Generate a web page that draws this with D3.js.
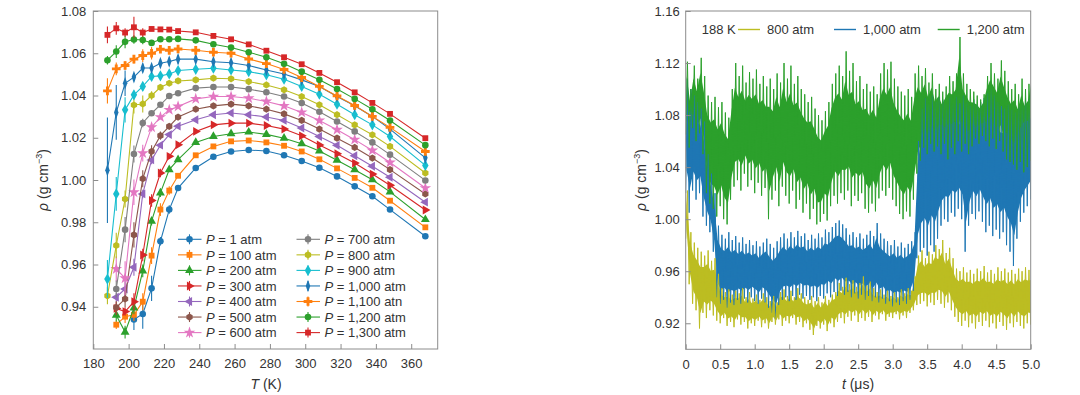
<!DOCTYPE html>
<html>
<head>
<meta charset="utf-8">
<script src="https://cdn.jsdelivr.net/npm/d3@7"></script>
<style>
  body { margin: 0; background: #fff; }
  svg { display: block; font-family: "Liberation Sans", Arial, sans-serif; }
</style>
</head>
<body>
<svg id="chart" width="1080" height="395"></svg>
<script>
// ---- left panel: density vs temperature at several pressures ----
const temps = [188, 193, 198, 203, 208, 213, 218, 223, 228, 238, 248, 258, 268, 278, 288, 298, 308, 318, 328, 338, 348, 368];
const pressureLabels = ["1", "100", "200", "300", "400", "500", "600", "700", "800", "900", "1,000", "1,100", "1,200", "1,300"];
const tempTicks = [180, 200, 220, 240, 260, 280, 300, 320, 340, 360];
const rhoTicksLeft = [0.94, 0.96, 0.98, 1.00, 1.02, 1.04, 1.06, 1.08];

const rhoP1    = [null, null, null, 0.934, 0.9366, 0.9487, 0.971, 0.986, 0.9962, 1.0057, 1.011, 1.0135, 1.0142, 1.0137, 1.0117, 1.009, 1.0058, 1.0017, 0.997, 0.9923, 0.986, 0.9734];
const rhoP100  = [null, 0.9315, 0.9353, 0.9362, 0.9424, 0.9642, 0.986, 0.995, 1.002, 1.0117, 1.0159, 1.0183, 1.0187, 1.0178, 1.0162, 1.0135, 1.0098, 1.0055, 1.001, 0.9963, 0.9902, 0.9776];
const rhoP200  = [null, 0.936, 0.928, 0.9394, 0.957, 0.9805, 0.9939, 1.0049, 1.0096, 1.0178, 1.0206, 1.0219, 1.0227, 1.0216, 1.0198, 1.0172, 1.0137, 1.0094, 1.0049, 1.0001, 0.9944, 0.9813];
const rhoP300  = [null, 0.9392, 0.9377, 0.9424, 0.9645, 0.9903, 1.0033, 1.0112, 1.0167, 1.023, 1.0261, 1.0269, 1.0269, 1.0258, 1.0241, 1.0209, 1.0166, 1.0124, 1.008, 1.0028, 0.9975, 0.9858];
const rhoP400  = [null, 0.9445, 0.9484, 0.9587, 0.9934, 1.0095, 1.0165, 1.0215, 1.0255, 1.0285, 1.0309, 1.0317, 1.0309, 1.0298, 1.0282, 1.0246, 1.0206, 1.0164, 1.0115, 1.0065, 1.0013, 0.9895];
const rhoP500  = [null, 0.9397, 0.9437, 0.974, 1.0006, 1.0135, 1.021, 1.0254, 1.0298, 1.0335, 1.0351, 1.0359, 1.0351, 1.0335, 1.0313, 1.0282, 1.0241, 1.0198, 1.0154, 1.0104, 1.0049, 0.9934];
const rhoP600  = [null, 0.9579, 0.9535, 0.9942, 1.0127, 1.025, 1.0298, 1.0332, 1.0348, 1.0384, 1.0395, 1.0395, 1.0387, 1.0372, 1.0351, 1.032, 1.0282, 1.0238, 1.0191, 1.014, 1.0083, 0.9962];
const rhoP700  = [null, 0.9484, 0.9765, 1.0123, 1.027, 1.0316, 1.0356, 1.0398, 1.0411, 1.0435, 1.044, 1.044, 1.043, 1.0415, 1.0395, 1.0364, 1.0323, 1.0277, 1.023, 1.0178, 1.012, 0.9998];
const rhoP800  = [0.9452, 0.969, 0.991, 1.0355, 1.036, 1.04, 1.0439, 1.0458, 1.0469, 1.0474, 1.0482, 1.0479, 1.0466, 1.045, 1.0427, 1.0395, 1.0356, 1.0309, 1.0261, 1.0214, 1.0159, 1.0033];
const rhoP900  = [0.9531, 0.9934, 1.0332, 1.0403, 1.0443, 1.049, 1.0493, 1.0502, 1.0518, 1.0524, 1.0529, 1.0521, 1.0513, 1.0498, 1.0477, 1.0443, 1.0406, 1.0359, 1.0309, 1.0261, 1.0206, 1.0069];
const rhoP1000 = [1.0046, 1.032, 1.0458, 1.0487, 1.053, 1.053, 1.0553, 1.0561, 1.0572, 1.0572, 1.056, 1.0555, 1.0542, 1.0521, 1.0502, 1.0474, 1.0443, 1.0395, 1.0351, 1.0301, 1.0241, 1.0105];
const rhoP1100 = [1.0422, 1.0526, 1.0542, 1.0572, 1.0589, 1.06, 1.0619, 1.0614, 1.062, 1.0614, 1.0605, 1.06, 1.0573, 1.0551, 1.0523, 1.0485, 1.0443, 1.0398, 1.0353, 1.0301, 1.0249, 1.0135];
const rhoP1200 = [1.0567, 1.0608, 1.0654, 1.0665, 1.0663, 1.0649, 1.0666, 1.0666, 1.0668, 1.0661, 1.0643, 1.0627, 1.0605, 1.0581, 1.055, 1.0513, 1.0474, 1.0431, 1.0384, 1.0335, 1.0282, 1.0165];
const rhoP1300 = [1.0687, 1.0718, 1.0698, 1.0723, 1.0698, 1.0715, 1.0713, 1.0712, 1.0705, 1.0699, 1.0682, 1.0666, 1.0642, 1.0612, 1.0581, 1.0548, 1.0507, 1.0463, 1.0415, 1.0365, 1.0313, 1.0198];

// error bar half-widths for the nine coldest temperatures (188–228 K)
const errP1    = [0, 0, 0, 0.005, 0.007, 0.006, 0.002, 0.002, 0.001];
const errP100  = [0, 0.002, 0.003, 0.003, 0.004, 0.004, 0.003, 0.002, 0.001];
const errP200  = [0, 0.003, 0.003, 0.003, 0.003, 0.002, 0.002, 0.001, 0.001];
const errP300  = [0, 0.003, 0.002, 0.004, 0.003, 0.003, 0.002, 0.001, 0.001];
const errP400  = [0, 0.002, 0.004, 0.004, 0.002, 0.002, 0.001, 0.001, 0.001];
const errP500  = [0, 0.003, 0.004, 0.006, 0.004, 0.003, 0.002, 0.001, 0.001];
const errP600  = [0, 0.006, 0.008, 0.006, 0.004, 0.002, 0.001, 0.001, 0.001];
const errP700  = [0, 0.004, 0.006, 0.004, 0.002, 0.001, 0.001, 0.001, 0.001];
const errP800  = [0.004, 0.006, 0.004, 0.004, 0.004, 0.002, 0.001, 0.001, 0.001];
const errP900  = [0.009, 0.008, 0.006, 0.002, 0.002, 0.002, 0.001, 0.001, 0.001];
const errP1000 = [0.025, 0.013, 0.006, 0.002, 0.002, 0.002, 0.002, 0.002, 0.002];
const errP1100 = [0.006, 0.003, 0.002, 0.002, 0.003, 0.003, 0.001, 0.001, 0.001];
const errP1200 = [0.002, 0.003, 0.003, 0.002, 0.002, 0.001, 0.001, 0.001, 0.001];
const errP1300 = [0.004, 0.003, 0.002, 0.005, 0.002, 0.001, 0.001, 0.001, 0.001];

// ---- right panel: density trajectories at 188 K ----
const timeTicks = [0, 0.5, 1.0, 1.5, 2.0, 2.5, 3.0, 3.5, 4.0, 4.5, 5.0];
const rhoTicksRight = [0.92, 0.96, 1.00, 1.04, 1.08, 1.12, 1.16];
const trajLabels = ["800 atm", "1,000 atm", "1,200 atm"];
// lower / upper excursion of each trace in every 0.05 µs window, t = 0 … 5.0
const rho800Lo = [0.985,0.950,0.935,0.930,0.916,0.928,0.924,0.930,0.926,0.922, 0.920,0.924,0.918,0.921,0.917,0.923,0.919,0.921,0.916,0.920, 0.918,0.922,0.917,0.920,0.916,0.921,0.919,0.923,0.918,0.922, 0.920,0.924,0.919,0.921,0.917,0.920,0.915,0.911,0.918,0.916, 0.919,0.914,0.920,0.917,0.921,0.924,0.920,0.925,0.922,0.926, 0.921,0.924,0.922,0.925,0.921,0.926,0.923,0.927,0.922,0.925, 0.924,0.927,0.923,0.926,0.924,0.928,0.930,0.934,0.935,0.937, 0.933,0.936,0.934,0.938,0.935,0.932,0.936,0.930,0.925,0.921, 0.918,0.922,0.917,0.920,0.916,0.921,0.918,0.922,0.917,0.920, 0.916,0.921,0.918,0.915,0.920,0.917,0.921,0.918,0.916,0.920, 0.919];
const rho800Hi = [1.022,0.990,0.982,0.978,0.975,0.972,0.976,0.968,0.970,0.958, 0.947,0.944,0.946,0.942,0.945,0.943,0.947,0.940,0.944,0.939, 0.942,0.938,0.943,0.940,0.937,0.941,0.936,0.944,0.946,0.941, 0.945,0.940,0.947,0.943,0.940,0.938,0.941,0.937,0.940,0.936, 0.941,0.938,0.942,0.944,0.951,0.948,0.955,0.950,0.953,0.948, 0.951,0.956,0.949,0.952,0.947,0.944,0.946,0.942,0.945,0.941, 0.944,0.940,0.946,0.943,0.947,0.945,0.956,0.972,0.976,0.970, 0.975,0.973,0.980,0.977,0.984,0.974,0.978,0.970,0.962,0.960, 0.963,0.959,0.961,0.958,0.962,0.960,0.964,0.959,0.961,0.958, 0.963,0.960,0.962,0.959,0.961,0.958,0.962,0.960,0.963,0.961, 0.962];
const rho1000Lo = [1.020,1.005,1.022,1.015,1.020,1.002,0.995,0.990,0.975,0.940, 0.935,0.938,0.932,0.936,0.934,0.938,0.935,0.939,0.936,0.940, 0.937,0.935,0.939,0.936,0.932,0.928,0.923,0.934,0.938,0.940, 0.937,0.941,0.938,0.942,0.939,0.941,0.938,0.940,0.937,0.941, 0.939,0.943,0.940,0.944,0.941,0.945,0.942,0.944,0.940,0.943, 0.939,0.942,0.938,0.941,0.937,0.940,0.936,0.939,0.935,0.937, 0.933,0.936,0.934,0.937,0.935,0.938,0.945,0.970,0.975,0.978, 0.972,0.980,0.975,0.985,0.995,1.000,0.998,1.005,1.002,1.008, 1.000,0.975,0.995,1.004,1.000,1.006,0.998,0.990,0.995,0.987, 0.992,0.985,0.990,0.980,0.975,0.964,0.985,0.998,1.005,1.010, 1.015];
const rho1000Hi = [1.108,1.100,1.095,1.090,1.085,1.075,1.050,1.035,1.020,0.995, 0.988,0.985,0.990,0.984,0.987,0.982,0.986,0.981,0.984,0.980, 0.983,0.979,0.982,0.985,0.981,0.978,0.983,0.986,0.989,0.985, 0.990,0.986,0.991,0.987,0.989,0.984,0.988,0.985,0.989,0.986, 0.992,0.990,0.994,0.997,0.999,0.996,0.993,0.988,0.990,0.986, 0.989,0.985,0.988,0.991,0.987,0.997,0.989,0.985,0.983,0.980, 0.984,0.979,0.982,0.978,0.981,0.983,0.990,1.060,1.085,1.093, 1.088,1.095,1.090,1.094,1.092,1.088,1.093,1.090,1.094,1.089, 1.095,1.090,1.087,1.092,1.088,1.090,1.093,1.097,1.100,1.095, 1.090,1.087,1.085,1.088,1.084,1.082,1.086,1.090,1.093,1.092, 1.094];
const rho1200Lo = [1.065,1.055,1.070,1.060,1.066,1.050,1.020,1.012,1.008,1.002, 1.010,1.000,0.996,1.015,1.025,1.030,1.022,1.035,1.025,1.030, 1.020,1.028,1.018,1.024,1.000,1.015,1.022,1.010,1.025,1.018, 1.012,1.022,1.008,1.015,1.005,1.012,1.000,1.008,0.996,0.998, 1.004,0.999,1.010,1.018,1.012,1.020,1.015,1.022,1.010,1.018, 1.014,1.020,1.008,1.005,1.012,1.006,1.016,1.022,1.018,1.024, 1.015,1.010,1.004,1.000,1.006,1.002,1.015,1.035,1.045,1.055, 1.050,1.058,1.052,1.056,1.050,1.058,1.046,1.055,1.050,1.060, 1.052,1.058,1.050,1.056,1.062,1.058,1.064,1.060,1.056,1.062, 1.054,1.060,1.052,1.046,1.044,1.042,1.038,1.044,1.036,1.040, 1.045];
const rho1200Hi = [1.121,1.100,1.118,1.108,1.124,1.110,1.095,1.090,1.094,1.086, 1.090,1.082,1.078,1.100,1.120,1.110,1.118,1.105,1.113,1.108, 1.115,1.104,1.110,1.102,1.108,1.100,1.112,1.105,1.120,1.108, 1.118,1.104,1.110,1.100,1.096,1.090,1.094,1.085,1.080,1.076, 1.083,1.090,1.104,1.112,1.118,1.110,1.129,1.114,1.120,1.106, 1.110,1.100,1.104,1.098,1.102,1.096,1.112,1.120,1.115,1.121, 1.108,1.102,1.098,1.095,1.100,1.094,1.112,1.118,1.110,1.116, 1.105,1.112,1.100,1.104,1.098,1.102,1.110,1.106,1.112,1.140, 1.112,1.104,1.100,1.098,1.095,1.092,1.096,1.110,1.120,1.112, 1.108,1.122,1.114,1.106,1.100,1.104,1.096,1.108,1.100,1.104, 1.121];

const tab10 = ["#1f77b4", "#ff7f0e", "#2ca02c", "#d62728", "#9467bd", "#8c564b", "#e377c2", "#7f7f7f", "#bcbd22", "#17becf"];
const seriesRho = [rhoP1, rhoP100, rhoP200, rhoP300, rhoP400, rhoP500, rhoP600, rhoP700, rhoP800, rhoP900, rhoP1000, rhoP1100, rhoP1200, rhoP1300];
const seriesErr = [errP1, errP100, errP200, errP300, errP400, errP500, errP600, errP700, errP800, errP900, errP1000, errP1100, errP1200, errP1300];
const seriesMarker = ["circle", "square", "triUp", "triRight", "triLeft", "hexagon", "star", "circle", "hexagon", "diamond", "thinDiamond", "plus", "circle", "square"];

const svg = d3.select("#chart");
const axisColor = "#8c8c8c";
const textColor = "#333";

const hexagonType = {
  draw(ctx, size) {
    const r = Math.sqrt(size / 2.6);
    for (let k = 0; k < 6; k++) {
      const a = Math.PI / 3 * k + Math.PI / 6;
      if (k === 0) ctx.moveTo(r * Math.cos(a), r * Math.sin(a));
      else ctx.lineTo(r * Math.cos(a), r * Math.sin(a));
    }
    ctx.closePath();
  }
};

function markerAttrs(name) {
  switch (name) {
    case "circle": return { path: d3.symbol(d3.symbolCircle, 34)(), rot: 0, sx: 1 };
    case "square": return { path: d3.symbol(d3.symbolSquare, 34)(), rot: 0, sx: 1 };
    case "triUp": return { path: d3.symbol(d3.symbolTriangle, 34)(), rot: 0, sx: 1 };
    case "triRight": return { path: d3.symbol(d3.symbolTriangle, 34)(), rot: 90, sx: 1 };
    case "triLeft": return { path: d3.symbol(d3.symbolTriangle, 34)(), rot: -90, sx: 1 };
    case "hexagon": return { path: d3.symbol(hexagonType, 34)(), rot: 0, sx: 1 };
    case "star": return { path: d3.symbol(d3.symbolStar, 42)(), rot: 0, sx: 1 };
    case "diamond": return { path: d3.symbol(d3.symbolDiamond, 36)(), rot: 0, sx: 1 };
    case "thinDiamond": return { path: d3.symbol(d3.symbolDiamond, 46)(), rot: 0, sx: 0.62 };
    case "plus": return { path: d3.symbol(d3.symbolCross, 42)(), rot: 0, sx: 1 };
  }
}

function addMarker(g, name, color, x, y) {
  const m = markerAttrs(name);
  g.append("path")
    .attr("d", m.path)
    .attr("transform", `translate(${x},${y}) rotate(${m.rot}) scale(${m.sx},1)`)
    .attr("fill", color);
}

function yLabel(g, x, y) {
  const t = g.append("text")
    .attr("transform", `translate(${x},${y}) rotate(-90)`)
    .attr("text-anchor", "middle")
    .attr("font-size", 14).attr("fill", textColor);
  t.append("tspan").attr("font-style", "italic").text("ρ");
  t.append("tspan").text(" (g cm");
  t.append("tspan").attr("font-size", 9).attr("dy", -6).text("−3");
  t.append("tspan").attr("dy", 6).text(")");
}

// ===== left panel =====
const L = { left: 93.3, right: 437.7, top: 11, bottom: 349 };
const xT = d3.scaleLinear().domain([180, 375]).range([L.left, L.right]);
const yL = d3.scaleLinear().domain([0.92, 1.08]).range([L.bottom, L.top]);

const left = svg.append("g");

left.append("g")
  .attr("transform", `translate(0,${L.bottom})`)
  .call(d3.axisBottom(xT).tickValues(tempTicks).tickSize(-5).tickPadding(10).tickFormat(d3.format("d")))
  .call(g => g.select(".domain").remove());
left.append("g")
  .attr("transform", `translate(${L.left},0)`)
  .call(d3.axisLeft(yL).tickValues(rhoTicksLeft).tickSize(-5).tickPadding(7).tickFormat(d3.format(".2f")))
  .call(g => g.select(".domain").remove());

left.selectAll(".tick line").attr("stroke", axisColor);
left.selectAll(".tick text").attr("font-size", 13).attr("fill", textColor)
  .attr("font-family", "Liberation Sans, Arial, sans-serif");

left.append("rect")
  .attr("x", L.left).attr("y", L.top)
  .attr("width", L.right - L.left).attr("height", L.bottom - L.top)
  .attr("fill", "none").attr("stroke", axisColor).attr("stroke-width", 1);

const lineT = d3.line()
  .defined(d => d.v != null)
  .x(d => xT(d.t)).y(d => yL(d.v));

seriesRho.forEach((vals, i) => {
  const color = tab10[i % 10];
  const pts = temps.map((t, j) => ({ t: t, v: vals[j], e: seriesErr[i][j] || 0 }));
  const g = left.append("g");
  g.append("path").datum(pts)
    .attr("d", lineT)
    .attr("fill", "none").attr("stroke", color).attr("stroke-width", 1.1);
  pts.filter(d => d.v != null && d.e > 0).forEach(d => {
    g.append("line")
      .attr("x1", xT(d.t)).attr("x2", xT(d.t))
      .attr("y1", yL(d.v - d.e)).attr("y2", yL(d.v + d.e))
      .attr("stroke", color).attr("stroke-width", 1.1);
  });
  pts.filter(d => d.v != null).forEach(d => addMarker(g, seriesMarker[i], color, xT(d.t), yL(d.v)));
});

// legend (two columns of seven)
const legend = left.append("g");
pressureLabels.forEach((lab, i) => {
  const col = Math.floor(i / 7), row = i % 7;
  const x0 = col === 0 ? 178 : 296.5;
  const y0 = 239.3 + row * 15.55;
  const color = tab10[i % 10];
  legend.append("line")
    .attr("x1", x0).attr("x2", x0 + 23.5).attr("y1", y0).attr("y2", y0)
    .attr("stroke", color).attr("stroke-width", 1.1);
  legend.append("line")
    .attr("x1", x0 + 11.5).attr("x2", x0 + 11.5).attr("y1", y0 - 5).attr("y2", y0 + 5)
    .attr("stroke", color).attr("stroke-width", 1.1);
  addMarker(legend, seriesMarker[i], color, x0 + 11.5, y0);
  const t = legend.append("text")
    .attr("x", x0 + 28).attr("y", y0).attr("dy", "0.36em")
    .attr("font-size", 13).attr("fill", textColor);
  t.append("tspan").attr("font-style", "italic").text("P");
  t.append("tspan").text(` = ${lab} ${i === 11 ? "atn" : "atm"}`);
});

left.append("text")
  .attr("x", 266).attr("y", 389)
  .attr("text-anchor", "middle").attr("font-size", 14).attr("fill", textColor)
  .call(t => { t.append("tspan").attr("font-style", "italic").text("T"); t.append("tspan").text(" (K)"); });
yLabel(left, 48, 180);

// ===== right panel =====
const R = { left: 685.7, right: 1030.7, top: 11, bottom: 349.3 };
const xt = d3.scaleLinear().domain([0, 5]).range([R.left, R.right]);
const yR = d3.scaleLinear().domain([0.90, 1.16]).range([R.bottom, R.top]);

const right = svg.append("g");
right.append("clipPath").attr("id", "clipR")
  .append("rect").attr("x", R.left).attr("y", R.top)
  .attr("width", R.right - R.left).attr("height", R.bottom - R.top);

const times = rho800Lo.map((_, i) => i * 0.05);
// spiky trace: alternate between the low and high excursion of each window
function zigzag(lo, hi) {
  const pts = [];
  lo.forEach((v, i) => {
    pts.push([times[i], v]);
    pts.push([times[i] + 0.025, hi[i]]);
  });
  return pts;
}
const lineR = d3.line().x(d => xt(d[0])).y(d => yR(d[1]));
const areaR = d3.area().x(d => xt(d.t)).y0(d => yR(d.lo)).y1(d => yR(d.hi));
const traces = [
  { lo: rho1200Lo, hi: rho1200Hi, color: "#2ca02c" },
  { lo: rho1000Lo, hi: rho1000Hi, color: "#1f77b4" },
  { lo: rho800Lo, hi: rho800Hi, color: "#bcbd22" }
];
const traceG = right.append("g").attr("clip-path", "url(#clipR)");
// dense inner part of each trace
traces.forEach(tr => {
  const band = times.map((t, i) => {
    const pad = (tr.hi[i] - tr.lo[i]) * 0.2;
    return { t: t + 0.0125, lo: tr.lo[i] + pad, hi: tr.hi[i] - pad };
  });
  traceG.append("path").datum(band)
    .attr("d", areaR).attr("fill", tr.color);
});
// spikes, 1,200 atm drawn last so it shows through the 1,000 atm band
[traces[1], traces[2], traces[0]].forEach(tr => {
  traceG.append("path").datum(zigzag(tr.lo, tr.hi))
    .attr("d", lineR)
    .attr("fill", "none").attr("stroke", tr.color)
    .attr("stroke-width", 1.0).attr("stroke-linejoin", "miter");
});

right.append("g")
  .attr("transform", `translate(0,${R.bottom})`)
  .call(d3.axisBottom(xt).tickValues(timeTicks).tickSize(-5).tickPadding(10)
    .tickFormat(d => d === 0 ? "0" : d3.format(".1f")(d)))
  .call(g => g.select(".domain").remove());
right.append("g")
  .attr("transform", `translate(${R.left},0)`)
  .call(d3.axisLeft(yR).tickValues(rhoTicksRight).tickSize(-5).tickPadding(6).tickFormat(d3.format(".2f")))
  .call(g => g.select(".domain").remove());
right.selectAll(".tick line").attr("stroke", axisColor);
right.selectAll(".tick text").attr("font-size", 13).attr("fill", textColor)
  .attr("font-family", "Liberation Sans, Arial, sans-serif");

right.append("rect")
  .attr("x", R.left).attr("y", R.top)
  .attr("width", R.right - R.left).attr("height", R.bottom - R.top)
  .attr("fill", "none").attr("stroke", axisColor).attr("stroke-width", 1);

// legend strip at the top
const rl = right.append("g");
rl.append("text").attr("x", 701.7).attr("y", 29.5).attr("dy", "0.36em")
  .attr("font-size", 13).attr("fill", textColor).text("188 K");
const legendX = [738, 834, 937.7];
[traces[2], traces[1], traces[0]].forEach((tr, i) => {
  rl.append("line")
    .attr("x1", legendX[i]).attr("x2", legendX[i] + 22)
    .attr("y1", 29.5).attr("y2", 29.5)
    .attr("stroke", tr.color).attr("stroke-width", 1.4);
  rl.append("text").attr("x", legendX[i] + 29).attr("y", 29.5).attr("dy", "0.36em")
    .attr("font-size", 13).attr("fill", textColor).text(trajLabels[i]);
});

right.append("text")
  .attr("x", 858).attr("y", 389)
  .attr("text-anchor", "middle").attr("font-size", 14).attr("fill", textColor)
  .call(t => { t.append("tspan").attr("font-style", "italic").text("t"); t.append("tspan").text(" (μs)"); });
yLabel(right, 646, 180);
</script>
</body>
</html>
